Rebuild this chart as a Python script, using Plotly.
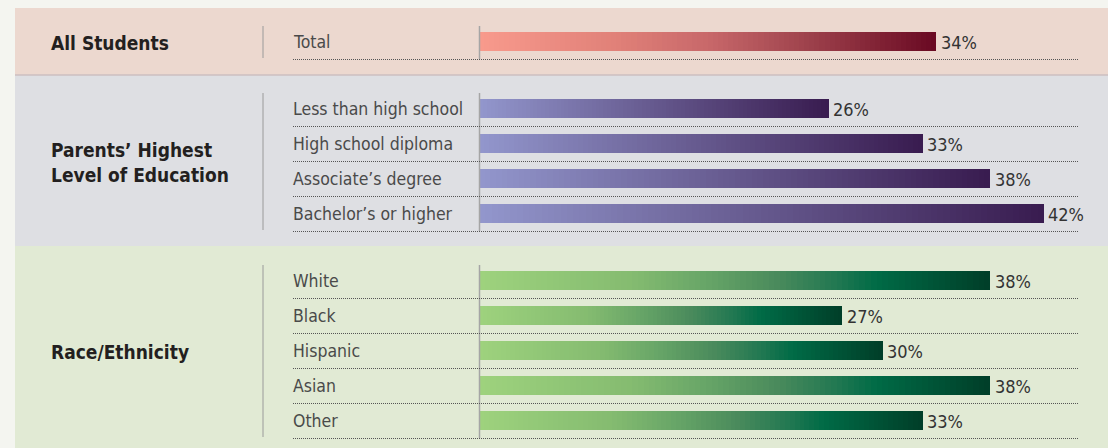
import plotly.graph_objects as go

# ---------------- data ----------------
group_labels = ["All Students", "Parents’ Highest<br>Level of Education", "Race/Ethnicity"]
total_categories = ["Total"]
total_values = [34]
education_categories = ["Less than high school", "High school diploma", "Associate’s degree", "Bachelor’s or higher"]
education_values = [26, 33, 38, 42]
race_categories = ["White", "Black", "Hispanic", "Asian", "Other"]
race_values = [38, 27, 30, 38, 33]

# ---------------- style ----------------
W, H = 1108, 448
FONT = "DejaVu Sans Condensed, Liberation Sans Narrow, sans-serif"
page_bg = "#f4f5f0"
band_colors = ["#ecd8cf", "#dedfe3", "#e1ead4"]
gradients = [
    [(0, "#f89a8c"), (0.3, "#e08078"), (0.5, "#c8686a"), (0.7, "#a2464f"), (1, "#6a0a23")],
    [(0, "#9296cc"), (1, "#391c50")],
    [(0, "#9ed27d"), (0.3, "#84bb70"), (0.45, "#66a467"), (0.58, "#4b8b5c"), (0.7, "#227852"),
     (0.78, "#006b46"), (1, "#003f29")],
]
ROW = 35
GROUP_GAP = 32
FIRST = 41
BAR_W = 19
X0_PX = 478.5
PX_PER_PCT = 13.45

groups = [
    (total_categories, total_values),
    (education_categories, education_values),
    (race_categories, race_values),
]


def hex2rgb(h):
    h = h.lstrip("#")
    return tuple(int(h[i:i + 2], 16) for i in (0, 2, 4))


def grad_color(stops, t):
    for (t0, c0), (t1, c1) in zip(stops, stops[1:]):
        if t <= t1:
            f = 0 if t1 == t0 else (t - t0) / (t1 - t0)
            a, b = hex2rgb(c0), hex2rgb(c1)
            return "rgb(%d,%d,%d)" % tuple(round(a[i] + (b[i] - a[i]) * f) for i in range(3))
    return "rgb(%d,%d,%d)" % hex2rgb(stops[-1][1])


# layout rows
rows = []  # (group index, category, value, y center)
r = 0
for gi, (cats, vals) in enumerate(groups):
    for c, v in zip(cats, vals):
        rows.append((gi, c, v, FIRST + ROW * r + GROUP_GAP * gi))
        r += 1

fig = go.Figure()

# gradient bars: overlay successively shorter bars, lighter colours on top
N = 90
ys = [row[3] for row in rows]
vals = [row[2] for row in rows]
for k in range(N):
    frac = (N - k) / N
    t = (N - k - 1) / (N - 1)
    colors = [grad_color(gradients[row[0]], t) for row in rows]
    fig.add_trace(go.Bar(
        orientation="h",
        y=ys,
        x=[v * frac for v in vals],
        width=BAR_W,
        marker=dict(color=colors, line=dict(width=0)),
        hoverinfo="skip",
        showlegend=False,
    ))

shapes = []
annotations = []

# bands
band_edges = [8, 75, 246, H]
for gi in range(3):
    shapes.append(dict(type="rect", xref="paper", yref="y", x0=15 / W, x1=1,
                       y0=band_edges[gi], y1=band_edges[gi + 1],
                       fillcolor=band_colors[gi], line=dict(width=0), layer="below"))
shapes.append(dict(type="line", xref="paper", yref="y", x0=15 / W, x1=1, y0=75, y1=75,
                   line=dict(color="#cdbfc0", width=1.5), layer="below"))

for gi in range(3):
    g_rows = [row for row in rows if row[0] == gi]
    top = g_rows[0][3] - 15
    bot = g_rows[-1][3] + 18
    shapes.append(dict(type="line", xref="paper", yref="y", x0=263 / W, x1=263 / W, y0=top, y1=bot - 1,
                       line=dict(color="#9a9a9a", width=1)))
    shapes.append(dict(type="line", xref="paper", yref="y", x0=479.5 / W, x1=479.5 / W, y0=top, y1=bot,
                       line=dict(color="#a5a5a5", width=1.5)))
    center = (g_rows[0][3] + g_rows[-1][3]) / 2
    annotations.append(dict(xref="paper", yref="y", x=49 / W, y=center + 2, text=group_labels[gi],
                            showarrow=False, xanchor="left", yanchor="middle", align="left",
                            font=dict(family=FONT, size=19, weight="bold", color="#231f20")))

for gi, cat, v, yc in rows:
    shapes.append(dict(type="line", xref="paper", yref="y", x0=293 / W, x1=1079 / W,
                       y0=yc + 18.5, y1=yc + 18.5,
                       line=dict(color="#555555", width=1, dash="1px,1px")))
    annotations.append(dict(xref="paper", yref="y", x=291 / W, y=yc + 1, text=cat, showarrow=False,
                            xanchor="left", yanchor="middle",
                            font=dict(family=FONT, size=17.5, color="#4a4a4a")))
    annotations.append(dict(xref="x", yref="y", x=v, y=yc + 1, text=f"{v}%", showarrow=False,
                            xanchor="left", yanchor="middle", xshift=3,
                            font=dict(family=FONT, size=18, color="#333333")))

fig.update_layout(
    width=W, height=H,
    margin=dict(l=0, r=0, t=0, b=0),
    paper_bgcolor=page_bg, plot_bgcolor="rgba(0,0,0,0)",
    barmode="overlay", bargap=0,
    xaxis=dict(domain=[X0_PX / W, 1], range=[0, (W - X0_PX) / PX_PER_PCT],
               visible=False, fixedrange=True),
    yaxis=dict(range=[H, 0], visible=False, fixedrange=True),
    shapes=shapes, annotations=annotations,
    showlegend=False,
)

fig.write_html(
    "out.html",
    config={"displayModeBar": False},
    post_script="document.body.style.margin='0';document.body.style.background='%s';" % page_bg,
)
